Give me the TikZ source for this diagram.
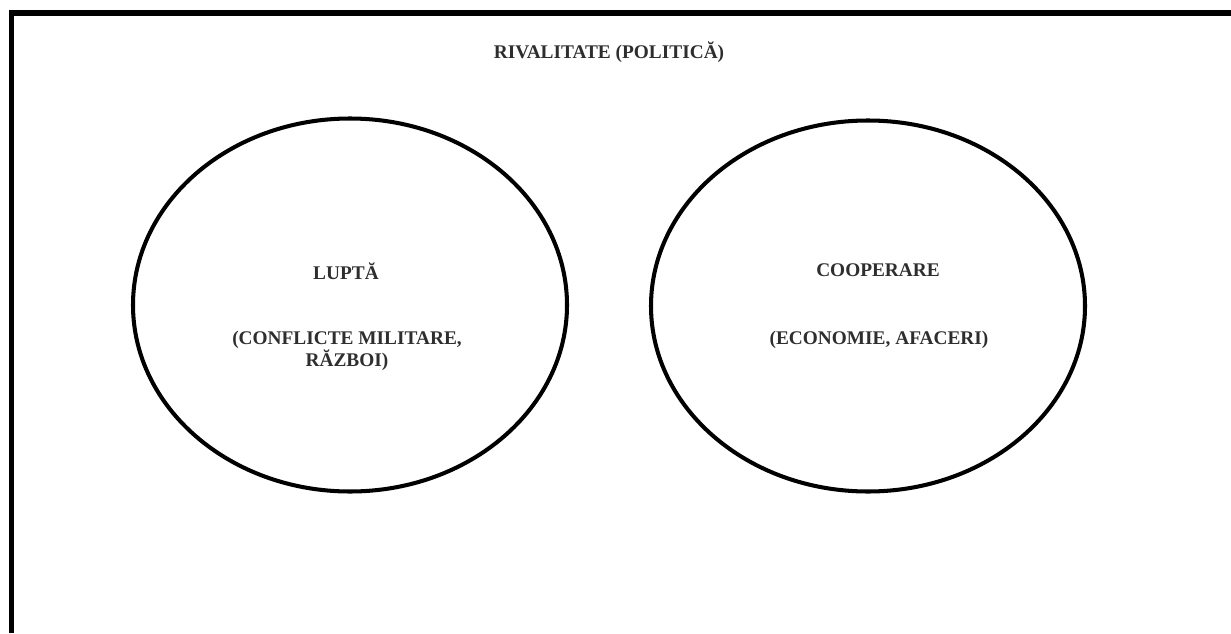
\documentclass[tikz,border=0pt]{standalone}
\usepackage{fontspec}
\setmainfont{Liberation Serif}
\usetikzlibrary{positioning}
\usetikzlibrary{shapes.geometric}

\tikzset{
  label text/.style={font=\fontsize{11}{12.5}\selectfont\bfseries, text=black!82, align=center, inner sep=0pt},
  field/.style={draw=black, line width=2.3pt, ellipse, minimum width=8.68cm, minimum height=7.46cm}
}

\begin{document}
\begin{tikzpicture}

\useasboundingbox (0,0) rectangle (24.62,12.66);

% ========================
% OUTER FRAME (left and top edge only)
% ========================

\draw[line width=2.85pt] (0.23,0) -- (0.23,12.40) -- (24.62,12.40);

% title
\node[label text] (title) at (12.18,11.62) {RIVALITATE (POLITICĂ)};


% ========================
% LEFT FIELD
% ========================

\node[field] (lupta) at (7.00,6.56) {};

\node[label text] (luptaname) at (6.92,7.24) {LUPTĂ};
\node[label text] (luptanote) at (6.94,5.64) {(CONFLICTE MILITARE,\\RĂZBOI)};


% ========================
% RIGHT FIELD
% ========================

\node[field, minimum height=7.42cm] (coop) at (17.36,6.54) {};

\node[label text] (coopname) at (17.56,7.26) {COOPERARE};
\node[label text] (coopnote) at (17.58,5.86) {(ECONOMIE, AFACERI)};

\end{tikzpicture}
\end{document}
